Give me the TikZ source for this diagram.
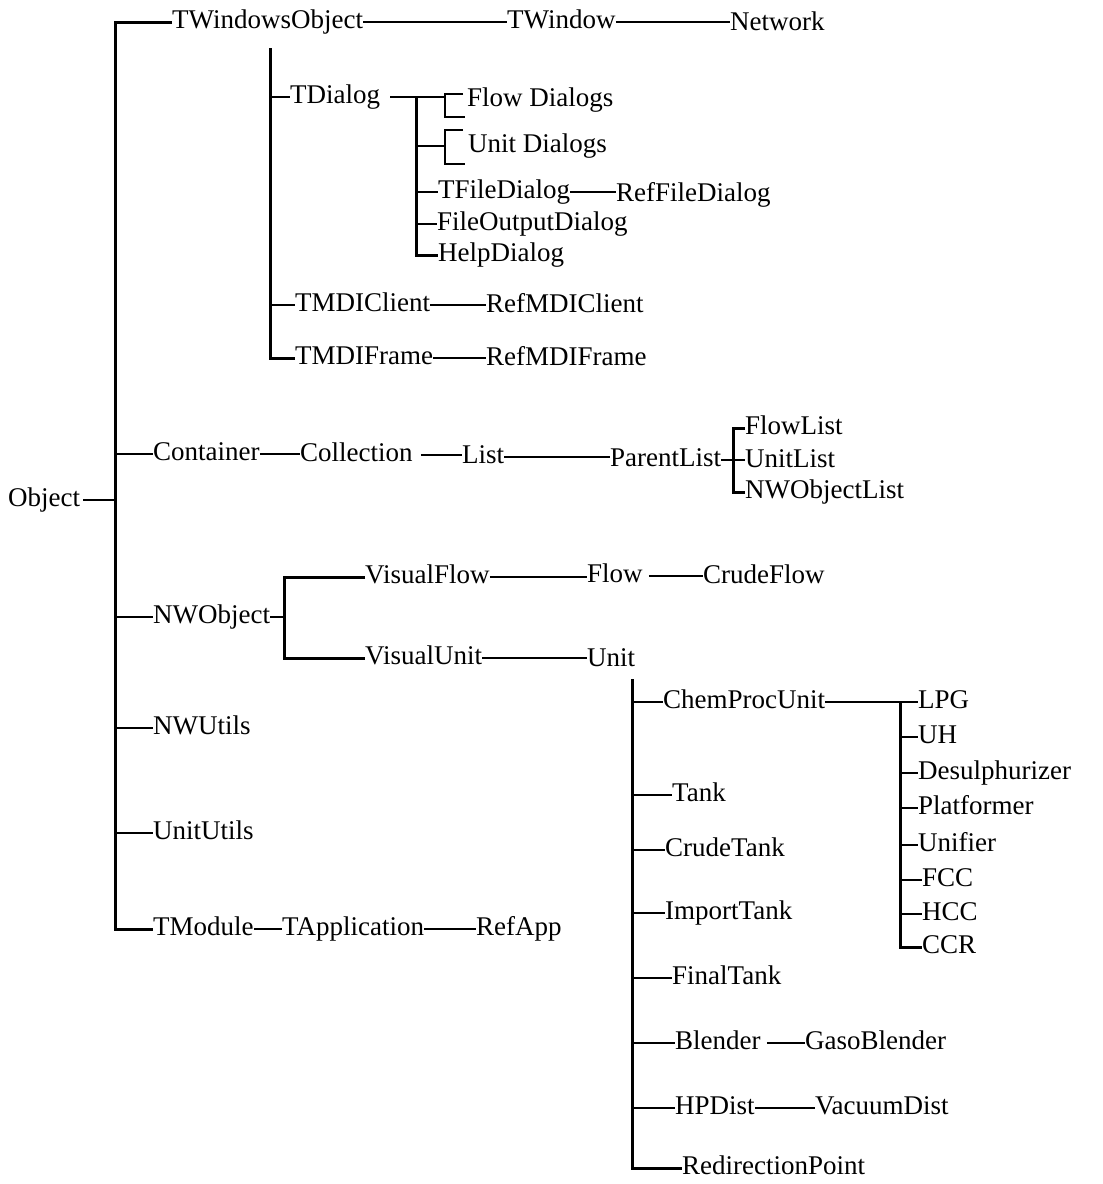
\documentclass[tikz,border=0pt]{standalone}
\usepackage{fontspec}
\setmainfont{Liberation Serif}
\begin{document}
\begin{tikzpicture}[x=1pt,y=-1pt,
  lbl/.style={font=\fontsize{27}{31}\selectfont, inner sep=0pt, anchor=west,
              text height=17pt, text depth=5pt},
  edge/.style={line width=2.6pt, line join=miter},
  trunk/.style={line width=3pt, line join=miter}]
\useasboundingbox (0,0) rectangle (1103,1184);

% ---- class names ----
\node[lbl] (obj)      at (8,500)   {Object};
\node[lbl] (twobj)    at (172,22)  {TWindowsObject};
\node[lbl] (twin)     at (507,22)  {TWindow};
\node[lbl] (net)      at (730,24)  {Network};
\node[lbl] (tdlg)     at (290,97)  {TDialog};
\node[lbl] (flowdlg)  at (467,100) {Flow Dialogs};
\node[lbl] (unitdlg)  at (468,146) {Unit Dialogs};
\node[lbl] (tfile)    at (438,192) {TFileDialog};
\node[lbl] (reffile)  at (616,195) {RefFileDialog};
\node[lbl] (fileout)  at (437,224) {FileOutputDialog};
\node[lbl] (help)     at (438,255) {HelpDialog};
\node[lbl] (tmdic)    at (295,305) {TMDIClient};
\node[lbl] (refmdic)  at (486,306) {RefMDIClient};
\node[lbl] (tmdif)    at (295,358) {TMDIFrame};
\node[lbl] (refmdif)  at (486,359) {RefMDIFrame};

\node[lbl] (cont)     at (153,454) {Container};
\node[lbl] (coll)     at (300,455) {Collection};
\node[lbl] (list)     at (462,457) {List};
\node[lbl] (parent)   at (610,460) {ParentList};
\node[lbl] (flowlist) at (745,428) {FlowList};
\node[lbl] (unitlist) at (745,461) {UnitList};
\node[lbl] (nwlist)   at (745,492) {NWObjectList};

\node[lbl] (nwobj)    at (153,617) {NWObject};
\node[lbl] (vflow)    at (365,577) {VisualFlow};
\node[lbl] (flow)     at (587,576) {Flow};
\node[lbl] (crude)    at (703,577) {CrudeFlow};
\node[lbl] (vunit)    at (365,658) {VisualUnit};
\node[lbl] (unit)     at (587,660) {Unit};

\node[lbl] (chem)     at (663,702) {ChemProcUnit};
\node[lbl] (lpg)      at (918,702) {LPG};
\node[lbl] (uh)       at (918,737) {UH};
\node[lbl] (desul)    at (918,773) {Desulphurizer};
\node[lbl] (plat)     at (918,808) {Platformer};
\node[lbl] (unif)     at (918,845) {Unifier};
\node[lbl] (fcc)      at (922,880) {FCC};
\node[lbl] (hcc)      at (922,914) {HCC};
\node[lbl] (ccr)      at (922,947) {CCR};
\node[lbl] (tank)     at (672,795) {Tank};
\node[lbl] (ctank)    at (665,850) {CrudeTank};
\node[lbl] (itank)    at (665,913) {ImportTank};
\node[lbl] (ftank)    at (672,978) {FinalTank};
\node[lbl] (blend)    at (675,1043) {Blender};
\node[lbl] (gaso)     at (805,1043) {GasoBlender};
\node[lbl] (hpd)      at (675,1108) {HPDist};
\node[lbl] (vac)      at (815,1108) {VacuumDist};
\node[lbl] (redir)    at (682,1168) {RedirectionPoint};

\node[lbl] (nwutil)   at (153,728) {NWUtils};
\node[lbl] (uutil)    at (153,833) {UnitUtils};
\node[lbl] (tmod)     at (153,929) {TModule};
\node[lbl] (tapp)     at (282,929) {TApplication};
\node[lbl] (refapp)   at (476,929) {RefApp};

% ---- trunk x positions ----
\coordinate (trx)  at (115,0);
\coordinate (wx)   at (270,0);
\coordinate (dx)   at (416,0);
\coordinate (bx)   at (445,0);
\coordinate (plx)  at (733,0);
\coordinate (nwx)  at (284,0);
\coordinate (ux)   at (632,0);
\coordinate (cx)   at (900,0);

% ---- main trunk from Object ----
\draw[trunk] (twobj.west) -| (tmod.west -| trx) -- (tmod.west);
\draw[edge] ([xshift=3pt]obj.east) -- (obj.east -| trx);
\foreach \n in {cont,nwobj,nwutil,uutil} \draw[edge] (\n.west -| trx) -- (\n.west);

% ---- TWindowsObject branch ----
\draw[edge] (twobj.east) -- (twobj.east -| twin.west);
\draw[edge] (twin.east) -- (twin.east -| net.west);
\draw[trunk] ([yshift=-15pt]twobj.south -| wx) |- (tmdif.west);
\draw[edge] (tdlg.west -| wx) -- (tdlg.west);
\draw[edge] (tmdic.west -| wx) -- (tmdic.west);
\draw[edge] (tmdic.east) -- (tmdic.east -| refmdic.west);
\draw[edge] (tmdif.east) -- (tmdif.east -| refmdif.west);

% ---- TDialog descendants ----
\draw[edge] ([xshift=10pt]tdlg.east) -- (tdlg.east -| bx);
\draw[trunk] (tdlg.east -| dx) |- (help.west);
% bracket grouping the flow dialogs
\coordinate (fb1) at (463,94);
\coordinate (fb2) at (465,117);
\draw[edge] (fb1) -- (fb1 -| bx) -- (fb2 -| bx) -- (fb2);
% bracket grouping the unit dialogs
\coordinate (ub1) at (463,130);
\coordinate (ub2) at (465,164);
\draw[edge] (unitdlg.west -| dx) -- (unitdlg.west -| bx);
\draw[edge] (ub1) -- (ub1 -| bx) -- (ub2 -| bx) -- (ub2);
\draw[edge] (tfile.west -| dx) -- (tfile.west);
\draw[edge] (tfile.east) -- (tfile.east -| reffile.west);
\draw[edge] (fileout.west -| dx) -- (fileout.west);

% ---- Container branch ----
\draw[edge] (cont.east) -- (cont.east -| coll.west);
\draw[edge] ([xshift=8pt]coll.east) -- (coll.east -| list.west);
\draw[edge] (list.east) -- (list.east -| parent.west);
\draw[edge] (parent.east) -- (parent.east -| unitlist.west);
\draw[trunk] (flowlist.west) -| (nwlist.west -| plx) -- (nwlist.west);

% ---- NWObject branch ----
\draw[edge] (nwobj.east) -- (nwobj.east -| nwx);
\draw[trunk] (vflow.west) -| (vunit.west -| nwx) -- (vunit.west);
\draw[edge] (vflow.east) -- (vflow.east -| flow.west);
\draw[edge] ([xshift=6pt]flow.east) -- (flow.east -| crude.west);
\draw[edge] (vunit.east) -- (vunit.east -| unit.west);

% ---- Unit descendants ----
\draw[trunk] ([yshift=-8pt]unit.south -| ux) |- (redir.west);
\foreach \n in {chem,tank,ctank,itank,ftank,blend,hpd} \draw[edge] (\n.west -| ux) -- (\n.west);
\draw[edge] ([xshift=6pt]blend.east) -- (blend.east -| gaso.west);
\draw[edge] (hpd.east) -- (hpd.east -| vac.west);

% ---- ChemProcUnit descendants ----
\draw[edge] (chem.east) -- (chem.east -| lpg.west);
\draw[trunk] (lpg.west -| cx) |- (ccr.west);
\foreach \n in {uh,desul,plat,unif,fcc,hcc} \draw[edge] (\n.west -| cx) -- (\n.west);

% ---- TModule chain ----
\draw[edge] (tmod.east) -- (tmod.east -| tapp.west);
\draw[edge] (tapp.east) -- (tapp.east -| refapp.west);
\end{tikzpicture}
\end{document}
